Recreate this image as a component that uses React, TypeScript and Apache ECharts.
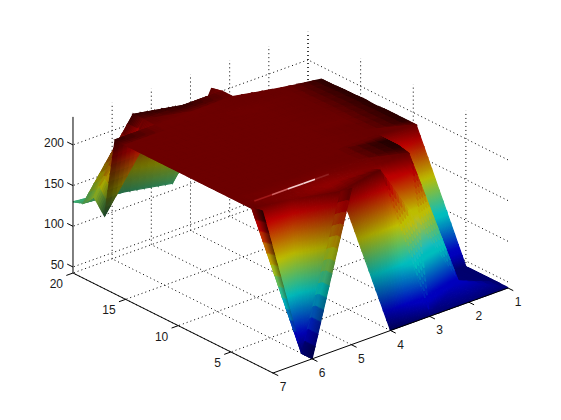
import React, { useEffect, useRef } from "react";
import * as echarts from "echarts";

const xTicks = [1, 2, 3, 4, 5, 6, 7];
const yTicks = [5, 10, 15, 20];
const zTicks = [50, 100, 150, 200];
const zFloor = 42.6;
const zTop = 234.4;

// heights, one list per x, y = 1..20
const zX1 = [43, 43, 43, 43, 43, 43, 43, 43, 43, 43, 43, 43, 43, 43, 43, 43, null, null, null, null];
const zX2 = [43, 62, 48, 45, 45, 228, 228, 228, 228, 227, 228, 227, 227, 226, 226, null, null, null, null, null];
const zX3 = [43, 147, 230, 233, 233, 233, 233, 233, 232, 233, 233, 233, 233, 233, 233, null, null, null, null, null];
const zX4 = [43, 233, 228, 233, 232, 232, 232, 232, 232, 232, 232, 232, 232, 232, 233, 233, 233, 230, null, null];
const zX5 = [234, 224, 226, 232, 232, 232, 232, 232, 232, 232, 232, 232, 232, 232, 232, 232, 233, 131, null, null];
const zX6 = [43, 43, 225, 232, 232, 232, 232, 232, 232, 232, 232, 232, 232, 232, 232, 232, 233, 233, 131, 125];
const zX7 = [null, 235, 232, 232, 232, 232, 232, 232, 232, 232, 232, 232, 232, 232, 232, 232, 132, 149, 135, 130];
const zGrid = [zX1, zX2, zX3, zX4, zX5, zX6, zX7];

// thin bright streak along the plateau's front lip
const streakX = [6.75, 6.3, 5.9, 5.5, 5.2, 4.85];
const streakY = [3.7, 3.7, 3.7, 3.7, 3.7, 3.7];
const streakZ = [232, 232, 232, 232, 232, 232];
const streakColors = ["#7a0808", "#a01818", "#d06060", "#f5c8c8", "#f8d8d8", "#902020"];

const ZMIN = 43;
const ZMAX = 233;
const CHANNEL_CAP = 0.74;

const sx = (x: number, y: number) => 508 - 39.17 * (x - 1) - 10.526 * (y - 1);
const sy = (x: number, y: number, z: number) => 288 + 14.17 * (x - 1) - 5.263 * (y - 1) - 0.814 * (z - zFloor);
const depth = (x: number, y: number, z: number) => 30.2 * x - 11.2 * y + 0.382 * z;
const view = (x: number, y: number, z: number) => [sx(x, y), sy(x, y, z), depth(x, y, z)];

const clamp = (v: number) => Math.max(0, Math.min(1, v));
function jet(t: number) {
  return [
    clamp(Math.min(4 * t - 1.5, -4 * t + 4.5)),
    clamp(Math.min(4 * t - 0.5, -4 * t + 3.5)),
    clamp(Math.min(4 * t + 0.5, -4 * t + 2.5)),
  ];
}
const shadeColor = (z: number, s: number) => {
  const c = jet((z - ZMIN) / (ZMAX - ZMIN)).map((v) => Math.round(Math.min(CHANNEL_CAP, v * s) * 255));
  return `rgb(${c[0]},${c[1]},${c[2]})`;
};

const zAt = (i: number, j: number) => (zGrid[i] && zGrid[i][j] != null ? (zGrid[i][j] as number) : null);
const vAt = (i: number, j: number) => {
  const z = zAt(i, j);
  return z == null ? null : view(i + 1, j + 1, z);
};

const LIGHT = [0.25, -0.55, 0.8];
function shadeAt(i: number, j: number) {
  const c = vAt(i, j)!;
  const xa = vAt(i + 1, j) || c;
  const xb = vAt(i - 1, j) || c;
  const ya = vAt(i, j + 1) || c;
  const yb = vAt(i, j - 1) || c;
  const u = [xa[0] - xb[0], xa[1] - xb[1], xa[2] - xb[2]];
  const v = [ya[0] - yb[0], ya[1] - yb[1], ya[2] - yb[2]];
  const raw = [u[1] * v[2] - u[2] * v[1], u[2] * v[0] - u[0] * v[2], u[0] * v[1] - u[1] * v[0]];
  const l = Math.hypot(raw[0], raw[1], raw[2]) || 1;
  let n = raw.map((q) => q / l);
  if (n[1] > 0) n = n.map((q) => -q);
  if (n[2] < -0.1) n = n.map((q) => -q);
  const d = n[0] * LIGHT[0] + n[1] * LIGHT[1] + n[2] * LIGHT[2];
  const s = Math.min(1, 0.25 + 0.68 * Math.max(0, d));
  // the low ground on the right stays fully lit in the picture
  if (i <= 2 && (zAt(i, j) as number) < 150) return Math.max(s, 0.85);
  return s;
}

type Tri = { v: number[][] };
const SKIP = new Set(["3,0,A", "5,0,B"]); // facets absent from the picture
const FLIP = new Set(["1,0"]); // cells split along the other diagonal in the picture

// painted far to near: x rising, y falling
function buildTris(): Tri[] {
  const out: Tri[] = [];
  const add = (a: number[], b: number[], c: number[]) => {
    const vs = [a, b, c].map(([i, j]) => {
      const z = zAt(i, j);
      return z == null ? null : { i, j, z };
    });
    if (vs.some((p) => !p)) return;
    out.push({ v: vs.map((p: any) => [p.i + 1, p.j + 1, p.z, shadeAt(p.i, p.j)]) });
  };
  for (let i = 0; i < 6; i++) {
    for (let j = 18; j >= 0; j--) {
      if (FLIP.has(`${i},${j}`)) {
        add([i, j], [i + 1, j], [i, j + 1]);
        add([i + 1, j], [i, j + 1], [i + 1, j + 1]);
        continue;
      }
      const hideA = i === 0 && j >= 5;
      const hideB = i === 0 && j >= 4;
      if (!hideB && !SKIP.has(`${i},${j},B`)) add([i, j], [i, j + 1], [i + 1, j + 1]);
      if (!hideA && !SKIP.has(`${i},${j},A`)) add([i, j], [i + 1, j], [i + 1, j + 1]);
    }
  }
  return out;
}
const tris = buildTris();

type Seg = [number, number, number, number, number, number];
const dotted: Seg[] = [];
for (const x of xTicks) dotted.push([x, 1, zFloor, x, 20, zFloor]);
for (const y of yTicks) dotted.push([1, y, zFloor, 7, y, zFloor]);
for (const y of yTicks) dotted.push([1, y, zFloor, 1, y, zTop]);
for (const x of xTicks) if (x < 7) dotted.push([x, 20, zFloor, x, 20, zTop]);
for (const z of zTicks) {
  dotted.push([1, 1, z, 1, 20, z]);
  dotted.push([1, 20, z, 7, 20, z]);
}
const solid: Seg[] = [
  [7, 20, zFloor, 7, 20, zTop],
  [7, 20, zFloor, 7, 1, zFloor],
  [7, 1, zFloor, 1, 1, zFloor],
];
for (const x of xTicks) solid.push([x, 1, zFloor, x, 0.5, zFloor]);
for (const y of [...yTicks]) solid.push([7, y, zFloor, 7.17, y, zFloor]);
for (const z of zTicks) solid.push([7, 20, z, 7, 20.55, z]);

type Label = { text: string; x: number; y: number; z: number; dx: number; dy: number; align: string };
const labels: Label[] = [
  ...xTicks.map((x) => ({ text: String(x), x, y: 1, z: zFloor, dx: 10, dy: 14, align: "center" })),
  ...yTicks.map((y) => ({ text: String(y), x: 7, y, z: zFloor, dx: -10, dy: 11, align: "right" })),
  ...zTicks.map((z) => ({ text: String(z), x: 7, y: 20, z, dx: -9, dy: -2, align: "right" })),
];

function segItem(api: any, s: Seg, style: any) {
  const a = api.coord([sx(s[0], s[1]), sy(s[0], s[1], s[2])]);
  const b = api.coord([sx(s[3], s[4]), sy(s[3], s[4], s[5])]);
  return { type: "line", shape: { x1: a[0], y1: a[1], x2: b[0], y2: b[1] }, style };
}

function triItem(api: any, t: Tri) {
  const [a, b, c] = t.v;
  const pts = t.v.map((p) => [sx(p[0], p[1]), sy(p[0], p[1], p[2])]);
  const edge = Math.max(
    Math.hypot(pts[0][0] - pts[1][0], pts[0][1] - pts[1][1]),
    Math.hypot(pts[1][0] - pts[2][0], pts[1][1] - pts[2][1]),
    Math.hypot(pts[0][0] - pts[2][0], pts[0][1] - pts[2][1])
  );
  const n = Math.max(1, Math.min(14, Math.ceil(edge / 12)));
  const mix = (u: number, v: number) => {
    const w = 1 - u - v;
    return a.map((_, k) => a[k] * w + b[k] * u + c[k] * v);
  };
  const children: any[] = [];
  const cell = (p: number[][]) => {
    const s = (p[0][3] + p[1][3] + p[2][3]) / 3;
    const scr = p.map((q) => api.coord([sx(q[0], q[1]), sy(q[0], q[1], q[2])]));
    const zs = p.map((q) => q[2]);
    const zMin = Math.min(...zs);
    const zMax = Math.max(...zs);
    const ux = scr[1][0] - scr[0][0];
    const uy = scr[1][1] - scr[0][1];
    const vx = scr[2][0] - scr[0][0];
    const vy = scr[2][1] - scr[0][1];
    const det = ux * vy - uy * vx;
    const longest = Math.max(ux * ux + uy * uy, vx * vx + vy * vy, (ux - vx) * (ux - vx) + (uy - vy) * (uy - vy));
    const points = scr;
    let fill: any = shadeColor((zs[0] + zs[1] + zs[2]) / 3, s);
    // slivers have no reliable gradient direction, so they keep a flat fill
    if (zMax - zMin > 1 && Math.abs(det) > 0.2 * longest) {
      const dz1 = zs[1] - zs[0];
      const dz2 = zs[2] - zs[0];
      const gx = (dz1 * vy - dz2 * uy) / det;
      const gy = (ux * dz2 - vx * dz1) / det;
      const g2 = gx * gx + gy * gy;
      const lo = zs.indexOf(zMin);
      const k = (zMax - zMin) / g2;
      const stops = [0, 0.25, 0.5, 0.75, 1].map((o) => ({ offset: o, color: shadeColor(zMin + (zMax - zMin) * o, s) }));
      fill = {
        type: "linear",
        global: true,
        x: scr[lo][0],
        y: scr[lo][1],
        x2: scr[lo][0] + gx * k,
        y2: scr[lo][1] + gy * k,
        colorStops: stops,
      };
    }
    children.push({ type: "polygon", shape: { points }, style: { fill, stroke: fill, lineWidth: 1.2 } });
  };
  for (let r = 0; r < n; r++) {
    for (let q = 0; q < n - r; q++) {
      const A = mix(q / n, r / n);
      const B = mix((q + 1) / n, r / n);
      const C = mix(q / n, (r + 1) / n);
      cell([A, B, C]);
      if (q + r < n - 1) cell([B, mix((q + 1) / n, (r + 1) / n), C]);
    }
  }
  return { type: "group", children };
}

const FONT = '12px "Liberation Sans", Arial, sans-serif';

export default function App() {
  const ref = useRef<HTMLDivElement>(null);
  useEffect(() => {
    document.body.style.margin = "0";
    document.body.style.background = "#fff";
    const chart = echarts.init(ref.current!, undefined, { renderer: "svg" });
    const base = { type: "custom", coordinateSystem: "cartesian2d", silent: true, clip: false, animation: false };
    chart.setOption({
      animation: false,
      backgroundColor: "#ffffff",
      tooltip: { show: false },
      grid: { left: 0, top: 0, width: 561, height: 420 },
      xAxis: { type: "value", min: 0, max: 561, show: false },
      yAxis: { type: "value", min: 0, max: 420, inverse: true, show: false },
      series: [
        {
          ...base,
          name: "grid",
          z: 1,
          data: dotted.map((_, i) => [i, i]),
          renderItem: (p: any, api: any) =>
            segItem(api, dotted[p.dataIndex], { stroke: "#000", lineWidth: 1, lineDash: [1, 3], fill: "none" }),
        },
        {
          ...base,
          name: "surface",
          z: 2,
          data: tris.map((_, i) => [i, i]),
          renderItem: (p: any, api: any) => triItem(api, tris[p.dataIndex]),
        },
        {
          ...base,
          name: "streak",
          z: 3,
          data: streakX.slice(1).map((_, i) => [i, i]),
          renderItem: (p: any, api: any) => {
            const i = p.dataIndex;
            return segItem(
              api,
              [streakX[i], streakY[i], streakZ[i], streakX[i + 1], streakY[i + 1], streakZ[i + 1]],
              { stroke: streakColors[i + 1], lineWidth: 1.6, fill: "none" }
            );
          },
        },
        {
          ...base,
          name: "axes",
          z: 4,
          data: solid.map((_, i) => [i, i]),
          renderItem: (p: any, api: any) => segItem(api, solid[p.dataIndex], { stroke: "#000", lineWidth: 1, fill: "none" }),
        },
        {
          ...base,
          name: "labels",
          z: 5,
          data: labels.map((_, i) => [i, i]),
          renderItem: (p: any, api: any) => {
            const l = labels[p.dataIndex];
            const c = api.coord([sx(l.x, l.y), sy(l.x, l.y, l.z)]);
            return {
              type: "text",
              x: c[0] + l.dx,
              y: c[1] + l.dy,
              style: { text: l.text, fill: "#1a1a1a", font: FONT, textAlign: l.align, textVerticalAlign: "middle" },
            };
          },
        },
      ],
    });
    return () => chart.dispose();
  }, []);
  return <div ref={ref} style={{ width: 561, height: 420, background: "#fff" }} />;
}
